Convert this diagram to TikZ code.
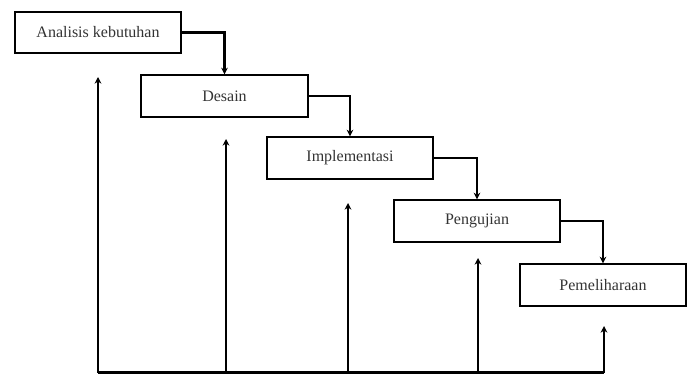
\documentclass[tikz,border=0pt]{standalone}
\usepackage{fontspec}
\setmainfont{Liberation Serif}
\usetikzlibrary{shapes,positioning,arrows.meta}

\begin{document}
\begin{tikzpicture}[x=0.75pt,y=-0.75pt]
\tikzstyle{every node}=[draw, line width=1.5pt, minimum width=125pt, minimum height=31pt, font=\fontsize{12}{14}\selectfont, text=black!80];
\tikzstyle{flow}=[line width=1.6pt, -{Stealth[length=5pt,width=5pt]}];
\useasboundingbox (0,0) rectangle (692,374);

  \node (a) at (98,32.5) {Analisis kebutuhan};
  \node (b) at (224.5,96) {Desain};
  \node (c) at (350,158) {Implementasi};
  \node (d) at (477,221) {Pengujian};
  \node (e) at (603,285) {Pemeliharaan};

  \foreach \from/\to in {a/b, b/c, c/d, d/e}
\draw [flow] (\from.east) -| (\to.north);

  % feedback
  \coordinate (fa) at (98,372.5);  \coordinate (ta) at (98,77);
  \coordinate (fb) at (226,372.5); \coordinate (tb) at (226,139);
  \coordinate (fc) at (348,372.5); \coordinate (tc) at (348,203);
  \coordinate (fd) at (478,372.5); \coordinate (td) at (478,258);
  \coordinate (fe) at (604,372.5); \coordinate (te) at (604,326);

  \foreach \from/\to in {fa/ta, fb/tb, fc/tc, fd/td, fe/te}
\draw [flow] (\from) -- (\to);
  \draw [line width=1.6pt] (fa) -- (fe);

\end{tikzpicture}
\end{document}
